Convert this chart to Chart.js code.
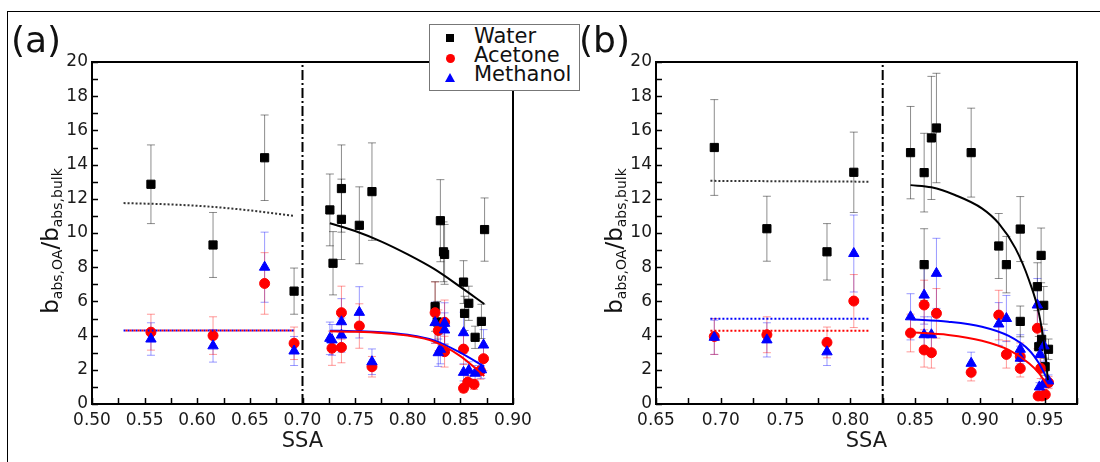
<!DOCTYPE html>
<html>
<head>
<meta charset="utf-8">
<script src="https://cdn.jsdelivr.net/npm/chart.js@4.4.0/dist/chart.umd.min.js"></script>
<style>
  body { margin: 0; background: #fff; font-family: 'DejaVu Sans', sans-serif; }
  #wrap { position: relative; width: 1100px; height: 462px; overflow: hidden; }
  #frame { position: absolute; left: 7px; top: 11px; width: 1200px; height: 600px; border-top: 1.5px solid #000; border-left: 1.5px solid #000; }
  canvas { position: absolute; top: 0; }
  .panel { position: absolute; top: 22px; font-size: 36px; line-height: 36px; color: #111; }
  .ytitle { position: absolute; top: 241px; font-size: 23px; white-space: nowrap; color: #111;
            transform: translate(-50%, -50%) rotate(-90deg); }
  .ytitle sub { font-size: 14px; vertical-align: -4px; }
  #legend { position: absolute; left: 429px; top: 24px; width: 151px; height: 67px; box-sizing: border-box;
            border: 1px solid #777; background: #fff; }
  #legend .lbl { position: absolute; left: 44px; font-size: 21px; line-height: 21px; color: #111; }
  #legend .mk { position: absolute; }
</style>
</head>
<body>
<div id="wrap">
  <div id="frame"></div>
  <canvas id="ca" width="550" height="462" style="left:0"></canvas>
  <canvas id="cb" width="550" height="462" style="left:550px"></canvas>
  <div class="panel" style="left:11px">(a)</div>
  <div class="panel" style="left:579px">(b)</div>
  <div class="ytitle" style="left:51px">b<sub>abs,OA</sub>/b<sub>abs,bulk</sub></div>
  <div class="ytitle" style="left:615px">b<sub>abs,OA</sub>/b<sub>abs,bulk</sub></div>
  <div id="legend">
    <div class="mk" style="left:16px;top:9px;width:8px;height:8px;background:#000"></div>
    <div class="mk" style="left:16px;top:29px;width:9px;height:9px;border-radius:50%;background:#f00"></div>
    <div class="mk" style="left:15px;top:48px;width:0;height:0;border-left:5px solid transparent;border-right:5px solid transparent;border-bottom:9px solid #00f"></div>
    <div class="lbl" style="top:1px">Water</div>
    <div class="lbl" style="top:20px">Acetone</div>
    <div class="lbl" style="top:39px">Methanol</div>
  </div>
</div>
<script>
// ---- panel (a) ----
const aWaterSsa = [0.556, 0.615, 0.664, 0.692, 0.726, 0.729, 0.737, 0.737, 0.754, 0.766, 0.826, 0.828, 0.831, 0.834, 0.835, 0.853, 0.854, 0.858, 0.864, 0.870, 0.873];
const aWaterVal = [12.85, 9.3, 14.4, 6.6, 11.35, 8.23, 12.6, 10.8, 10.45, 12.42, 5.7, 4.8, 10.72, 8.9, 8.75, 7.13, 5.3, 5.89, 3.9, 4.83, 10.2];
const aWaterErr = [2.3, 1.9, 2.5, 1.35, 2.1, 1.85, 2.55, 2.35, 2.25, 2.85, 1.45, 1.2, 2.4, 1.75, 1.75, 1.25, 1.0, 1.0, 0.65, 1.0, 1.85];

const aAcetoneSsa = [0.556, 0.615, 0.664, 0.692, 0.728, 0.737, 0.737, 0.754, 0.766, 0.826, 0.829, 0.835, 0.835, 0.853, 0.853, 0.857, 0.863, 0.869, 0.872];
const aAcetoneVal = [4.2, 4.0, 7.05, 3.55, 3.26, 5.34, 3.31, 4.56, 2.18, 5.34, 4.3, 4.78, 3.06, 3.21, 0.92, 1.28, 1.15, 1.95, 2.65];
const aAcetoneErr = [1.05, 1.1, 1.8, 0.95, 1.0, 1.55, 0.9, 1.3, 0.6, 1.8, 1.2, 1.3, 0.9, 0.9, 0.25, 0.35, 0.3, 0.5, 0.7];

const aMethanolSsa = [0.556, 0.615, 0.664, 0.692, 0.726, 0.728, 0.737, 0.737, 0.754, 0.766, 0.826, 0.829, 0.831, 0.835, 0.835, 0.853, 0.853, 0.858, 0.864, 0.870, 0.872];
const aMethanolVal = [3.8, 3.4, 8.0, 3.1, 3.84, 3.75, 4.81, 4.03, 5.36, 2.47, 4.76, 3.0, 3.2, 4.72, 4.33, 4.17, 1.85, 1.97, 1.8, 2.0, 3.45];
const aMethanolErr = [0.95, 0.95, 2.05, 0.85, 0.95, 0.9, 1.35, 1.0, 1.5, 0.75, 1.2, 0.8, 0.85, 1.2, 1.0, 1.2, 0.5, 0.5, 0.45, 0.5, 0.9];

// fitted curves, panel (a)
const aFlatSsa = [0.53, 0.57, 0.61, 0.65, 0.692];
const aWaterFlat = [11.75, 11.68, 11.55, 11.32, 11.0];
const aSolventFlat = [4.3, 4.3, 4.3, 4.3, 4.3];
const aFitSsa = [0.726, 0.75, 0.775, 0.80, 0.825, 0.85, 0.8727];
const aWaterFit = [10.57, 10.12, 9.5, 8.75, 7.9, 6.85, 5.85];
const aAcetoneFit = [4.25, 4.22, 4.15, 4.0, 3.65, 2.8, 1.64];
const aMethanolFit = [4.29, 4.26, 4.2, 4.05, 3.72, 3.0, 2.18];
const aSplit = 0.70;

// ---- panel (b) ----
const bWaterSsa = [0.695, 0.7356, 0.782, 0.8027, 0.8465, 0.857, 0.8626, 0.8665, 0.8933, 0.857, 0.9146, 0.9205, 0.9312, 0.9312, 0.9444, 0.9473, 0.9493, 0.9477, 0.9455, 0.953, 0.9504];
const bWaterVal = [15.0, 10.25, 8.9, 13.55, 14.7, 13.53, 15.56, 16.14, 14.7, 8.15, 9.24, 8.15, 10.23, 4.83, 6.86, 8.69, 5.77, 3.78, 3.35, 3.2, 2.18];
const bWaterErr = [2.8, 1.9, 1.65, 2.35, 2.7, 2.3, 3.6, 3.2, 2.6, 2.1, 1.9, 1.65, 1.9, 0.9, 1.4, 1.6, 1.1, 0.6, 0.6, 0.6, 0.5];

const bAcetoneSsa = [0.695, 0.7356, 0.782, 0.8027, 0.8465, 0.857, 0.857, 0.8626, 0.8665, 0.8933, 0.9146, 0.9205, 0.9312, 0.9312, 0.9444, 0.947, 0.945, 0.948, 0.9505, 0.953];
const bAcetoneVal = [3.95, 4.05, 3.6, 6.02, 4.15, 5.79, 3.16, 3.0, 5.3, 1.85, 5.2, 2.9, 2.77, 2.08, 4.43, 2.09, 0.47, 0.47, 0.55, 1.25];
const bAcetoneErr = [1.05, 1.05, 0.9, 1.55, 1.1, 1.45, 1.0, 0.9, 1.45, 0.5, 1.45, 0.8, 0.8, 0.5, 1.2, 0.6, 0.15, 0.15, 0.15, 0.35];

const bMethanolSsa = [0.695, 0.7356, 0.782, 0.8027, 0.8465, 0.857, 0.857, 0.8626, 0.8665, 0.8933, 0.9146, 0.9205, 0.9312, 0.9312, 0.9444, 0.9465, 0.9495, 0.946, 0.949, 0.953];
const bMethanolVal = [3.9, 3.75, 3.05, 8.8, 5.1, 6.37, 4.05, 4.05, 7.64, 2.38, 4.68, 5.0, 3.2, 2.68, 5.79, 2.9, 3.4, 1.0, 1.15, 1.35];
const bMethanolErr = [1.0, 1.0, 0.8, 2.25, 1.35, 1.7, 1.05, 1.05, 2.05, 0.65, 1.25, 1.35, 0.85, 0.7, 1.55, 0.75, 0.9, 0.25, 0.3, 0.35];

// fitted curves, panel (b)
const bFlatSsa = [0.692, 0.815];
const bWaterFlat = [13.05, 13.0];
const bAcetoneFlat = [4.28, 4.28];
const bMethanolFlat = [4.98, 4.98];
const bWaterFitSsa = [0.8465, 0.8626, 0.8808, 0.9016, 0.9146, 0.9275, 0.9379, 0.9456, 0.9505, 0.9525];
const bWaterFit = [12.8, 12.67, 12.22, 11.44, 10.56, 9.1, 7.25, 5.3, 2.96, 1.4];
const bSolventFitSsa = [0.8465, 0.8756, 0.9016, 0.9223, 0.9379, 0.9456, 0.953];
const bMethanolFit = [4.95, 4.81, 4.52, 3.98, 3.16, 2.38, 1.3];
const bAcetoneFit = [4.19, 4.04, 3.7, 3.16, 2.38, 1.8, 0.98];
const bSplit = 0.825;

// axes
const xTicksA = [0.50, 0.55, 0.60, 0.65, 0.70, 0.75, 0.80, 0.85, 0.90];
const xTicksB = [0.65, 0.70, 0.75, 0.80, 0.85, 0.90, 0.95];
const yTicks = [0, 2, 4, 6, 8, 10, 12, 14, 16, 18, 20];

const FONT = 'DejaVu Sans';
const TXT = '#1a1a1a';

const pts = (xs, ys) => xs.map((x, i) => ({ x: x, y: ys[i] }));

function scatterSet(xs, ys, errs, style, color, errColor, r, order) {
    return {
        type: 'scatter',
        data: pts(xs, ys),
        errors: errs,
        errorColor: errColor,
        pointStyle: style,
        pointRadius: r,
        pointBackgroundColor: color,
        pointBorderColor: color,
        pointBorderWidth: 1,
        order: order
    };
}

function lineSet(xs, ys, color, dash, dashOffset) {
    return {
        type: 'line',
        data: pts(xs, ys),
        borderColor: color,
        borderWidth: 2,
        borderDash: dash || [],
        borderDashOffset: dashOffset || 0,
        pointRadius: 0,
        cubicInterpolationMode: 'monotone',
        fill: false,
        order: 0
    };
}

function splitSet(x) {
    return {
        type: 'line',
        data: [{ x: x, y: 0 }, { x: x, y: 20 }],
        borderColor: '#000',
        borderWidth: 2,
        borderDash: [10, 3, 2, 3],
        pointRadius: 0,
        order: 0
    };
}

// error bars under the markers
const errorBars = {
    id: 'errorBars',
    beforeDatasetsDraw(chart) {
        const { ctx } = chart;
        const y = chart.scales.y;
        ctx.save();
        ctx.lineWidth = 1;
        chart.data.datasets.forEach((ds, i) => {
            if (!ds.errors) return;
            ctx.strokeStyle = ds.errorColor;
            chart.getDatasetMeta(i).data.forEach((pt, j) => {
                const v = ds.data[j].y, e = ds.errors[j];
                const top = y.getPixelForValue(v + e), bot = y.getPixelForValue(v - e);
                ctx.beginPath();
                ctx.moveTo(pt.x, top); ctx.lineTo(pt.x, bot);
                ctx.moveTo(pt.x - 4, top); ctx.lineTo(pt.x + 4, top);
                ctx.moveTo(pt.x - 4, bot); ctx.lineTo(pt.x + 4, bot);
                ctx.stroke();
            });
        });
        ctx.restore();
    }
};

// box around plot area + inward ticks
const frameBox = {
    id: 'frameBox',
    afterDraw(chart) {
        const { ctx, chartArea: a } = chart;
        const x = chart.scales.x, y = chart.scales.y;
        ctx.save();
        ctx.strokeStyle = '#000';
        ctx.lineWidth = 1.5;
        ctx.beginPath();
        for (let v = x.min; v <= x.max + 1e-9; v += 0.025) {
            const px = Math.round(x.getPixelForValue(v)) + 0.5;
            ctx.moveTo(px, a.bottom); ctx.lineTo(px, a.bottom - 6);
        }
        for (let v = 0; v <= 20; v += 1) {
            const py = Math.round(y.getPixelForValue(v)) + 0.5;
            ctx.moveTo(a.left, py); ctx.lineTo(a.left + 6, py);
        }
        ctx.stroke();
        ctx.lineWidth = 2;
        ctx.strokeRect(a.left, a.top, a.right - a.left, a.bottom - a.top);
        ctx.restore();
    }
};

function makeChart(id, xMin, xMax, xTicks, yWidth, rightPad, datasets) {
    return new Chart(document.getElementById(id), {
        type: 'scatter',
        data: { datasets: datasets },
        plugins: [errorBars, frameBox],
        options: {
            responsive: false,
            animation: false,
            devicePixelRatio: 1,
            events: [],
            layout: { padding: { left: 0, right: rightPad, top: 62, bottom: 0 } },
            plugins: { legend: { display: false }, tooltip: { enabled: false } },
            scales: {
                x: {
                    type: 'linear',
                    min: xMin,
                    max: xMax,
                    grid: { display: false, drawTicks: false },
                    border: { display: false },
                    afterBuildTicks: s => { s.ticks = xTicks.map(v => ({ value: v })); },
                    afterFit: s => { s.height = 58; },
                    ticks: {
                        padding: 6,
                        color: TXT,
                        font: { family: FONT, size: 17 },
                        maxRotation: 0,
                        callback: v => v.toFixed(2)
                    },
                    title: {
                        display: true,
                        text: 'SSA',
                        color: TXT,
                        font: { family: FONT, size: 21 },
                        padding: { top: 0, bottom: 8 }
                    }
                },
                y: {
                    type: 'linear',
                    min: 0,
                    max: 20,
                    grid: { display: false, drawTicks: false },
                    border: { display: false },
                    afterBuildTicks: s => { s.ticks = yTicks.map(v => ({ value: v })); },
                    afterFit: s => { s.width = yWidth; },
                    ticks: {
                        padding: 4,
                        color: TXT,
                        font: { family: FONT, size: 17 }
                    }
                }
            }
        }
    });
}

makeChart('ca', 0.5, 0.9, xTicksA, 92, 37, [
    splitSet(aSplit),
    lineSet(aFlatSsa, aWaterFlat, '#333', [2, 2]),
    lineSet(aFlatSsa, aSolventFlat, '#f00', [2, 2], 2),
    lineSet(aFlatSsa, aSolventFlat, '#00f', [2, 2]),
    lineSet(aFitSsa, aWaterFit, '#000'),
    lineSet(aFitSsa, aAcetoneFit, '#f00'),
    lineSet(aFitSsa, aMethanolFit, '#00f'),
    scatterSet(aMethanolSsa, aMethanolVal, aMethanolErr, 'triangle', '#00f', 'rgba(0,0,255,0.4)', 6, 1),
    scatterSet(aAcetoneSsa, aAcetoneVal, aAcetoneErr, 'circle', '#f00', 'rgba(255,0,0,0.4)', 5, 2),
    scatterSet(aWaterSsa, aWaterVal, aWaterErr, 'rect', '#000', 'rgba(0,0,0,0.45)', 5.8, 3)
]);

makeChart('cb', 0.65, 0.975, xTicksB, 106, 23, [
    splitSet(bSplit),
    lineSet(bFlatSsa, bWaterFlat, '#333', [2, 2]),
    lineSet(bFlatSsa, bAcetoneFlat, '#f00', [2, 2]),
    lineSet(bFlatSsa, bMethanolFlat, '#00f', [2, 2]),
    lineSet(bWaterFitSsa, bWaterFit, '#000'),
    lineSet(bSolventFitSsa, bAcetoneFit, '#f00'),
    lineSet(bSolventFitSsa, bMethanolFit, '#00f'),
    scatterSet(bMethanolSsa, bMethanolVal, bMethanolErr, 'triangle', '#00f', 'rgba(0,0,255,0.4)', 6, 1),
    scatterSet(bAcetoneSsa, bAcetoneVal, bAcetoneErr, 'circle', '#f00', 'rgba(255,0,0,0.4)', 5, 2),
    scatterSet(bWaterSsa, bWaterVal, bWaterErr, 'rect', '#000', 'rgba(0,0,0,0.45)', 5.8, 3)
]);
</script>
</body>
</html>
